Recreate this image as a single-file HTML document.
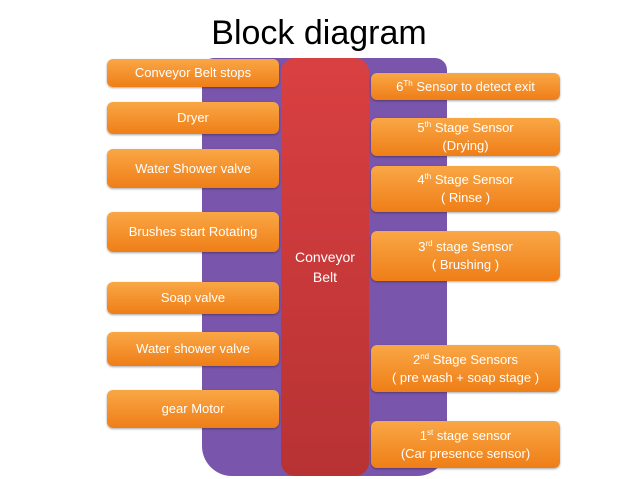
<!DOCTYPE html>
<html><head><style>
body{margin:0;width:638px;height:479px;background:#fff;position:relative;overflow:hidden;font-family:"Liberation Sans",sans-serif}
.t{position:absolute;left:0;width:638px;top:14px;text-align:center;font-size:34px;color:#000}
.p{position:absolute;left:202px;top:58px;width:245px;height:418px;background:#7a55ac;border-radius:12px 12px 30px 30px}
.r{position:absolute;left:281px;top:58px;width:88px;height:418px;background:linear-gradient(#d94042,#b83233);border-radius:14px;color:#fff;font-size:14px;text-align:center;display:flex;align-items:center;justify-content:center;line-height:20px}
.b{position:absolute;background:linear-gradient(#f9a746,#ef7e17);border-radius:6px;color:#fff;font-size:13px;text-align:center;display:flex;align-items:center;justify-content:center;line-height:18px;box-shadow:0 1px 2px rgba(0,0,0,.35)}
.b>div{display:block;width:100%}
.l{left:107px;width:172px}.rt{left:371px;width:189px}
sup{font-size:8px;line-height:0;vertical-align:5px}
</style></head><body>
<div class="t">Block diagram</div>
<div class="p"></div>
<div class="r"><div>Conveyor<br>Belt</div></div>
<div class="b l" style="top:59px;height:28px"><div>Conveyor Belt stops</div></div>
<div class="b l" style="top:102px;height:32px"><div>Dryer</div></div>
<div class="b l" style="top:149px;height:39px"><div>Water Shower valve</div></div>
<div class="b l" style="top:212px;height:40px"><div>Brushes start Rotating</div></div>
<div class="b l" style="top:282px;height:32px"><div>Soap valve</div></div>
<div class="b l" style="top:332px;height:34px"><div>Water shower valve</div></div>
<div class="b l" style="top:390px;height:38px"><div>gear Motor</div></div>
<div class="b rt" style="top:73px;height:27px"><div>6<sup>Th</sup> Sensor to detect exit</div></div>
<div class="b rt" style="top:118px;height:38px"><div>5<sup>th</sup> Stage Sensor<br>(Drying)</div></div>
<div class="b rt" style="top:166px;height:46px"><div>4<sup>th</sup> Stage Sensor<br>( Rinse )</div></div>
<div class="b rt" style="top:231px;height:50px"><div>3<sup>rd</sup> stage Sensor<br>( Brushing )</div></div>
<div class="b rt" style="top:345px;height:47px"><div>2<sup>nd</sup> Stage Sensors<br>( pre wash + soap stage )</div></div>
<div class="b rt" style="top:421px;height:47px"><div>1<sup>st</sup> stage sensor<br>(Car presence sensor)</div></div>
</body></html>
